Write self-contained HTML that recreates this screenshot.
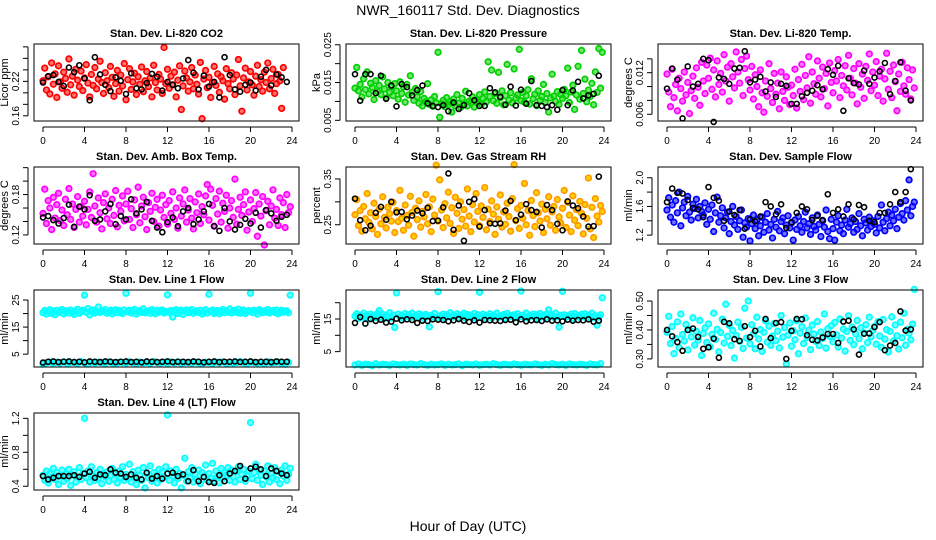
<!DOCTYPE html>
<html><head><meta charset="utf-8"><style>
html,body{margin:0;padding:0;background:#fff}
svg{display:block;font-family:"Liberation Sans",Arial,sans-serif}
</style></head><body>
<svg id="chart" width="936" height="540" viewBox="0 0 936 540" xmlns="http://www.w3.org/2000/svg">
<rect x="0" y="0" width="936" height="540" fill="#fff"/>
<text x="468" y="15" text-anchor="middle" font-size="14">NWR_160117  Std. Dev. Diagnostics</text>
<text x="468" y="531" text-anchor="middle" font-size="14">Hour of Day (UTC)</text>
</svg>
<script>
const xTicks=[0,4,8,12,16,20,24];
const co2Red=[.221,.243,.205,.228,.198,.252,.215,.233,.192,.247,.219,.208,.236,.225,.201,.259,.214,.229,.196,.241,.222,.211,.238,.204,.226,.249,.217,.193,.232,.213,
.244,.207,.224,.255,.218,.199,.235,.221,.209,.246,.227,.194,.216,.239,.203,.231,.212,.251,.188,.223,.242,.206,.219,.234,.197,.228,.215,.245,.202,.221,
.237,.211,.226,.193,.248,.218,.205,.232,.224,.199,.279,.216,.241,.208,.229,.214,.236,.193,.222,.247,.171,.212,.238,.226,.203,.219,.244,.207,.231,.215,
.198,.253,.155,.224,.239,.209,.227,.192,.218,.246,.213,.233,.201,.228,.221,.189,.242,.216,.207,.235,.224,.197,.231,.258,.212,.168,.226,.243,.205,.219,
.237,.214,.196,.229,.248,.211,.223,.203,.236,.218,.252,.207,.225,.241,.199,.216,.232,.221,.173,.244];
const co2Black=[.218,.229,.231,.219,.212,.244,.236,.248,.225,.187,.262,.232,.214,.203,.227,.221,.198,.234,.208,.206,.217,.233,.228,.204,.219,.214,.208,.225,.257,.235,.206,.230,.211,.219,.192,.262,.231,.206,.202,.214,.218,.204,.228,.240,.213,.232,.227,.219];
const presGreen=[.0135,.0190,.0128,.0145,.0112,.0160,.0131,.0178,.0120,.0148,.0137,.0105,.0155,.0126,.0142,.0118,.0165,.0133,.0109,.0150,.0124,.0139,.0115,.0147,
.0128,.0106,.0152,.0121,.0138,.0098,.0145,.0117,.0168,.0125,.0103,.0134,.0112,.0095,.0126,.0088,.0108,.0099,.0147,.0092,.0104,.0087,.0113,.0096,
.0230,.0058,.0094,.0103,.0086,.0110,.0091,.0099,.0072,.0106,.0089,.0118,.0095,.0084,.0108,.0093,.0127,.0088,.0101,.0097,.0112,.0085,.0104,.0096,
.0118,.0092,.0108,.0125,.0099,.0205,.0113,.0183,.0102,.0121,.0095,.0177,.0110,.0128,.0091,.0115,.0198,.0104,.0123,.0096,.0186,.0109,.0117,.0238,
.0102,.0124,.0098,.0115,.0131,.0093,.0160,.0107,.0119,.0089,.0128,.0103,.0113,.0145,.0097,.0121,.0072,.0109,.0172,.0114,.0100,.0126,.0092,.0118,
.0108,.0132,.0115,.0188,.0097,.0125,.0143,.0079,.0117,.0193,.0106,.0235,.0121,.0159,.0099,.0130,.0113,.0148,.0091,.0178,.0124,.0240,.0135,.0230];
const presBlack=[.0172,.0102,.0172,.0172,.0122,.0168,.0107,.0142,.0087,.0146,.0138,.0116,.0130,.0142,.0095,.0088,.0085,.0090,.0074,.0097,.0080,.0090,.0122,.0103,.0088,.0088,.0135,.0124,.0112,.0091,.0139,.0089,.0131,.0094,.0154,.0090,.0088,.0085,.0090,.0078,.0130,.0090,.0129,.0152,.0108,.0116,.0120,.0168];
const tempMag=[.0118,.0092,.0071,.0125,.0084,.0103,.0065,.0112,.0097,.0079,.0121,.0088,.0106,.0061,.0094,.0115,.0083,.0127,.0099,.0073,.0135,.0108,.0090,.0131,
.0112,.0141,.0096,.0124,.0085,.0137,.0103,.0119,.0092,.0146,.0108,.0128,.0079,.0133,.0114,.0098,.0150,.0121,.0105,.0139,.0087,.0126,.0144,.0110,
.0095,.0129,.0082,.0117,.0100,.0071,.0124,.0091,.0063,.0108,.0086,.0133,.0097,.0077,.0119,.0089,.0105,.0068,.0121,.0093,.0080,.0114,.0099,.0074,
.0102,.0087,.0125,.0069,.0110,.0093,.0132,.0081,.0116,.0098,.0143,.0076,.0121,.0104,.0089,.0137,.0112,.0085,.0128,.0097,.0119,.0072,.0134,.0106,
.0091,.0123,.0108,.0139,.0084,.0116,.0101,.0130,.0095,.0145,.0112,.0088,.0126,.0105,.0075,.0133,.0099,.0118,.0083,.0129,.0109,.0147,.0094,.0121,
.0102,.0136,.0087,.0115,.0125,.0079,.0111,.0148,.0096,.0122,.0084,.0131,.0107,.0065,.0118,.0093,.0135,.0101,.0089,.0127,.0110,.0082,.0124,.0098];
const tempBlack=[.0097,.0126,.0110,.0054,.0129,.0100,.0104,.0140,.0138,.0049,.0113,.0111,.0104,.0126,.0127,.0151,.0106,.0110,.0114,.0093,.0106,.0085,.0104,.0101,.0075,.0075,.0086,.0091,.0094,.0102,.0096,.0125,.0117,.0130,.0065,.0112,.0105,.0103,.0123,.0104,.0113,.0122,.0134,.0089,.0108,.0135,.0094,.0080];
const ambMag=[.152,.188,.137,.171,.160,.128,.176,.145,.165,.182,.141,.157,.134,.173,.150,.189,.143,.166,.131,.158,.177,.139,.162,.148,
.170,.135,.158,.184,.146,.211,.163,.139,.175,.153,.129,.168,.181,.144,.160,.137,.173,.149,.186,.132,.164,.155,.178,.141,
.166,.185,.143,.159,.131,.172,.150,.191,.138,.163,.176,.147,.128,.168,.155,.182,.140,.161,.173,.133,.157,.179,.146,.165,
.136,.171,.152,.184,.143,.160,.130,.175,.148,.166,.187,.139,.157,.174,.145,.129,.169,.153,.181,.137,.162,.150,.178,.195,
.142,.188,.164,.133,.174,.151,.185,.139,.167,.155,.179,.130,.160,.171,.146,.203,.136,.158,.176,.149,.165,.184,.127,.154,
.172,.140,.159,.183,.118,.166,.148,.177,.105,.156,.170,.135,.163,.187,.145,.158,.134,.175,.150,.168,.131,.180,.153,.162];
const ambBlack=[.146,.148,.142,.137,.145,.165,.132,.162,.158,.179,.141,.143,.155,.166,.136,.148,.143,.173,.152,.158,.169,.141,.131,.124,.139,.146,.133,.155,.160,.136,.143,.155,.166,.133,.126,.160,.140,.128,.135,.144,.137,.153,.131,.157,.152,.141,.147,.150];
const rhOrange=[.272,.305,.248,.281,.236,.290,.263,.318,.255,.276,.241,.297,.268,.229,.284,.252,.311,.266,.243,.288,.274,.258,.299,.233,
.281,.257,.325,.264,.238,.293,.270,.249,.312,.277,.225,.286,.261,.302,.245,.279,.267,.316,.252,.289,.235,.306,.271,.380,
.258,.348,.282,.244,.296,.265,.321,.253,.287,.231,.310,.275,.242,.300,.262,.283,.247,.328,.269,.235,.294,.256,.318,.279,
.248,.291,.266,.331,.239,.284,.257,.302,.273,.229,.289,.262,.315,.245,.278,.251,.297,.268,.236,.307,.381,.259,.285,.242,
.292,.264,.340,.250,.281,.227,.303,.270,.246,.320,.276,.258,.295,.233,.284,.263,.311,.249,.278,.290,.238,.305,.267,.254,
.286,.325,.244,.299,.271,.235,.313,.260,.283,.248,.301,.275,.230,.294,.264,.352,.241,.288,.222,.307,.269,.256,.292,.279];
const rhBlack=[.307,.260,.238,.248,.276,.289,.261,.300,.277,.278,.262,.270,.281,.275,.287,.258,.259,.288,.362,.239,.292,.215,.300,.306,.246,.282,.253,.252,.253,.281,.302,.260,.272,.295,.282,.278,.244,.293,.282,.252,.238,.301,.292,.286,.268,.246,.247,.355];
const flowBlue=[1.55,1.72,1.45,1.62,1.38,1.68,1.51,1.80,1.33,1.58,1.66,1.47,1.74,1.52,1.41,1.63,1.57,1.70,1.44,1.60,1.53,1.48,1.65,1.35,
1.56,1.42,1.62,1.25,1.51,1.73,1.38,1.47,1.58,1.30,1.44,1.52,1.22,1.39,1.60,1.34,1.46,1.28,1.40,1.55,1.17,1.37,1.31,1.43,
1.12,1.36,1.48,1.29,1.41,1.19,1.33,1.45,1.24,1.38,1.50,1.27,1.35,1.16,1.42,1.31,1.53,1.26,1.39,1.44,1.22,1.34,1.47,1.30,
1.37,1.13,1.41,1.28,1.46,1.33,1.24,1.39,1.52,1.30,1.36,1.21,1.44,1.32,1.27,1.48,1.35,1.18,1.40,1.31,1.55,1.25,1.15,1.42,
1.29,1.13,1.38,1.47,1.26,1.34,1.22,1.41,1.56,1.31,1.36,1.44,1.24,1.39,1.28,1.50,1.33,1.19,1.42,1.37,1.27,1.45,1.32,1.40,
1.35,1.23,1.46,1.30,1.62,1.38,1.26,1.43,1.52,1.33,1.48,1.40,1.56,1.29,1.45,1.64,1.50,1.41,1.68,1.55,1.97,1.47,1.60,1.66];
const flowBlack=[1.66,1.85,1.79,1.78,1.69,1.58,1.56,1.45,1.87,1.72,1.68,1.40,1.53,1.48,1.55,1.29,1.42,1.39,1.46,1.66,1.60,1.49,1.63,1.30,1.38,1.51,1.60,1.56,1.41,1.47,1.41,1.77,1.51,1.56,1.46,1.63,1.42,1.62,1.59,1.40,1.38,1.51,1.51,1.63,1.80,1.66,1.80,2.12];
const line1Hi=[20.3,21.1,19.8,20.6,21.4,20.0,20.9,19.6,21.2,20.4,20.8,21.5,19.9,20.7,21.0,20.2,21.3,20.5,19.7,20.9,21.6,20.1,20.6,21.2,
26.8,20.5,21.8,19.5,20.9,21.3,20.2,20.7,22.4,20.4,21.0,20.8,21.5,20.1,20.6,21.2,19.9,20.9,21.4,20.3,21.1,20.6,20.0,21.3,
27.5,20.7,21.2,20.2,20.9,21.5,19.8,20.6,21.1,20.4,21.7,20.3,20.8,21.0,20.1,21.4,20.6,19.9,21.2,20.5,20.8,21.3,20.2,20.7,
26.9,20.4,21.1,18.7,20.8,21.4,20.0,20.6,21.2,19.7,20.9,21.3,20.3,20.7,21.5,20.1,20.8,21.0,20.4,21.2,19.8,20.6,21.4,20.2,
27.1,20.8,21.3,20.0,20.6,21.1,19.9,20.7,21.5,20.3,21.0,20.5,21.7,20.2,20.9,21.2,20.4,21.6,20.1,20.8,21.3,20.0,20.7,21.1,
27.5,20.4,21.2,20.6,19.8,21.4,20.9,20.3,21.0,20.6,21.5,20.2,20.8,21.1,20.4,21.3,19.9,20.7,21.2,20.5,20.9,21.0,20.3,26.8];
const line1Lo=[1.3,1.8,2.1,1.6,2.0,1.7,2.2,1.5,1.9,2.0,1.6,2.3,1.8,1.4,2.0,1.7,2.1,1.9,1.6,2.2,1.8,1.5,2.0,1.9,
1.7,2.2,1.9,1.5,2.1,1.8,2.0,1.6,2.3,1.9,1.7,2.0,1.5,2.1,1.8,2.2,1.6,1.9,2.0,1.7,2.1,1.8,1.6,2.0,
1.9,1.6,2.1,1.8,2.2,1.5,2.0,1.7,1.9,2.3,1.8,1.6,2.1,1.9,1.7,2.0,1.5,2.2,1.8,1.9,2.1,1.6,1.3,2.0];
const line1Black=[1.9,2.2,2.3,2.1,2.2,2.3,2.1,2.2,2.0,2.3,2.2,2.1,2.3,2.2,2.1,2.2,2.3,2.1,2.2,2.0,2.3,2.2,2.1,2.2,2.3,2.1,2.2,2.2,2.1,2.3,2.2,2.0,2.2,2.3,2.1,2.2,2.2,2.3,2.1,2.2,2.3,2.1,2.2,2.2,2.1,2.3,2.2,2.2];
const line2Hi=[15.9,16.6,15.2,16.1,15.5,16.8,15.7,16.3,15.0,16.5,15.8,16.2,15.4,16.7,17.6,15.6,16.4,15.1,16.0,15.7,16.9,15.3,16.2,12.4,
23.0,16.5,15.6,16.1,15.2,16.7,15.9,16.3,15.4,16.8,15.7,16.0,15.5,16.6,15.8,16.2,15.1,16.4,15.9,12.6,16.1,15.6,16.7,15.3,
23.4,16.0,15.7,16.5,15.2,16.3,15.8,16.9,15.5,16.1,15.9,16.6,15.4,16.2,15.7,16.8,15.3,16.4,15.9,16.0,15.6,16.7,15.2,16.3,
23.2,15.8,16.5,15.4,16.1,15.9,16.6,15.3,16.2,15.7,16.8,15.5,16.0,15.9,16.4,15.2,16.7,15.6,16.1,15.8,16.3,15.4,16.6,15.7,
23.6,16.2,15.5,16.8,15.3,16.0,15.9,16.5,15.6,16.3,15.1,16.7,15.8,16.1,15.4,16.6,17.8,15.9,16.2,15.5,16.8,15.7,12.5,16.1,
23.5,16.3,15.6,16.0,15.8,16.5,15.2,16.7,15.9,16.1,15.5,16.4,15.7,16.6,15.3,16.2,15.8,16.8,15.4,16.0,13.1,15.6,16.3,21.5];
const line2Lo=[0.9,1.2,0.8,1.1,1.0,0.7,1.3,0.9,1.1,1.0,0.8,1.2,1.0,0.9,1.1,0.8,1.2,1.0,0.9,1.3,1.0,0.8,1.1,0.9,
1.0,1.2,0.8,1.1,0.9,1.0,1.2,0.7,1.1,1.0,0.9,1.2,0.8,1.0,1.1,0.9,1.3,1.0,0.8,1.1,1.0,0.9,1.2,1.0,
0.8,1.1,1.0,0.9,1.2,1.0,0.8,1.1,0.9,1.3,1.0,0.9,1.1,0.8,1.2,1.0,0.9,1.1,1.0,0.8,1.2,1.0,0.9,1.3];
const line2Black=[13.8,15.6,13.6,15.0,14.4,14.8,13.9,14.2,15.1,14.6,14.9,14.7,13.8,14.5,14.4,14.9,14.8,14.7,14.3,14.6,15.0,14.5,14.1,14.6,13.9,14.7,14.6,14.5,14.4,14.7,14.8,14.0,14.9,14.3,14.6,14.7,14.4,14.9,14.5,14.6,14.3,14.8,14.5,14.7,14.6,14.9,14.2,14.5];
const line3Cyan=[.392,.447,.353,.412,.318,.371,.428,.339,.455,.384,.362,.419,.331,.401,.376,.442,.348,.395,.365,.433,.312,.388,.407,.357,
.421,.342,.385,.458,.367,.402,.324,.391,.437,.355,.489,.378,.416,.346,.398,.303,.381,.427,.361,.409,.336,.475,.372,.500,
.352,.418,.387,.335,.444,.369,.401,.326,.392,.431,.358,.413,.347,.379,.422,.363,.396,.338,.450,.375,.408,.283,.382,.424,
.344,.397,.366,.432,.318,.389,.411,.353,.441,.374,.399,.332,.417,.386,.361,.429,.346,.393,.371,.455,.337,.404,.378,.415,
.359,.426,.383,.341,.438,.372,.403,.327,.395,.449,.364,.410,.349,.387,.433,.370,.407,.335,.390,.418,.356,.444,.376,.398,
.412,.351,.429,.379,.340,.436,.368,.401,.324,.395,.445,.362,.417,.380,.334,.427,.373,.458,.347,.402,.389,.366,.420,.540];
const line3Black=[.400,.378,.358,.328,.400,.405,.376,.335,.340,.370,.304,.428,.423,.368,.362,.413,.375,.397,.343,.438,.372,.424,.427,.300,.397,.438,.437,.382,.366,.364,.374,.386,.386,.355,.429,.432,.402,.315,.387,.388,.410,.427,.330,.346,.355,.464,.398,.402];
const line4Cyan=[.53,.47,.58,.44,.55,.50,.61,.48,.56,.42,.52,.59,.46,.54,.49,.60,.41,.53,.57,.45,.51,.62,.48,.55,
1.20,.50,.58,.45,.63,.52,.47,.56,.49,.60,.43,.54,.51,.57,.46,.53,.61,.48,.55,.44,.58,.50,.63,.47,
.54,.49,.66,.45,.57,.51,.42,.59,.53,.47,.62,.38,.55,.50,.64,.46,.56,.52,.44,.60,.48,.57,.51,.63,
1.24,.47,.58,.52,.44,.60,.49,.55,.38,.53,.73,.46,.57,.50,.62,.45,.54,.48,.59,.43,.56,.51,.65,.47,
.55,.50,.67,.46,.58,.52,.44,.61,.49,.56,.53,.62,.47,.59,.51,.45,.57,.63,.48,.54,.60,.46,.52,.58,
1.15,.49,.56,.66,.47,.60,.53,.42,.58,.51,.64,.45,.55,.50,.62,.48,.57,.43,.59,.52,.64,.47,.54,.61];
const line4Black=[.52,.48,.50,.52,.52,.52,.53,.51,.55,.57,.50,.54,.53,.60,.56,.55,.51,.54,.50,.48,.56,.49,.52,.49,.55,.56,.52,.54,.46,.59,.46,.51,.45,.44,.53,.46,.55,.58,.64,.49,.61,.63,.60,.52,.61,.58,.55,.53];

const NS="http://www.w3.org/2000/svg";
const svg=document.getElementById('chart');
function mk(tag,attrs,parent){const e=document.createElementNS(NS,tag);for(const k in attrs)e.setAttribute(k,attrs[k]);(parent||svg).appendChild(e);return e;}

const panels=[
 {id:'co2',title:'Stan. Dev. Li-820 CO2',ylab:'Licor ppm',col:0,row:0,ymin:.151,ymax:.285,ticks:[.16,.18,.20,.22,.24,.26,.28],labels:['0.16','0.22'],labelVals:[.16,.22],
  series:[{v:co2Red,c:'#ff0000',step:1/6}],black:co2Black},
 {id:'pressure',title:'Stan. Dev. Li-820 Pressure',ylab:'kPa',col:1,row:0,ymin:.00482,ymax:.0252,ticks:[.005,.010,.015,.020,.025],labels:['0.005','0.015','0.025'],labelVals:[.005,.015,.025],
  series:[{v:presGreen,c:'#00d000',step:1/6}],black:presBlack},
 {id:'li820-temp',title:'Stan. Dev. Li-820 Temp.',ylab:'degrees C',col:2,row:0,ymin:.00503,ymax:.01614,ticks:[.006,.008,.010,.012,.014],labels:['0.006','0.012'],labelVals:[.006,.012],
  series:[{v:tempMag,c:'#ff00ff',step:1/6}],black:tempBlack},
 {id:'amb-box-temp',title:'Stan. Dev. Amb. Box Temp.',ylab:'degrees C',col:0,row:1,ymin:.1065,ymax:.221,ticks:[.12,.14,.16,.18,.20,.22],labels:['0.12','0.18'],labelVals:[.12,.18],
  series:[{v:ambMag,c:'#ff00ff',step:1/6}],black:ambBlack},
 {id:'gas-rh',title:'Stan. Dev. Gas Stream RH',ylab:'percent',col:1,row:1,ymin:.208,ymax:.376,ticks:[.25,.30,.35],labels:['0.25','0.35'],labelVals:[.25,.35],
  series:[{v:rhOrange,c:'#ff9a00',fill:'#ffd000',step:1/6}],black:rhBlack},
 {id:'sample-flow',title:'Stan. Dev. Sample Flow',ylab:'ml/min',col:2,row:1,ymin:1.076,ymax:2.15,ticks:[1.2,1.4,1.6,1.8,2.0],labels:['1.2','1.6','2.0'],labelVals:[1.2,1.6,2.0],
  series:[{v:flowBlue,c:'#0000ff',step:1/6}],black:flowBlack},
 {id:'line1-flow',title:'Stan. Dev. Line 1 Flow',ylab:'ml/min',col:0,row:2,ymin:.26,ymax:28.7,ticks:[5,10,15,20,25],labels:['5','15','25'],labelVals:[5,15,25],
  series:[{v:line1Hi,c:'#00ffff',step:1/6},{v:line1Lo,c:'#00ffff',step:1/3}],black:line1Black},
 {id:'line2-flow',title:'Stan. Dev. Line 2 Flow',ylab:'ml/min',col:1,row:2,ymin:.28,ymax:23.9,ticks:[5,10,15,20],labels:['5','15'],labelVals:[5,15],
  series:[{v:line2Hi,c:'#00ffff',step:1/6},{v:line2Lo,c:'#00ffff',step:1/3}],black:line2Black},
 {id:'line3-flow',title:'Stan. Dev. Line 3 Flow',ylab:'ml/min',col:2,row:2,ymin:.272,ymax:.538,ticks:[.30,.35,.40,.45,.50],labels:['0.30','0.40','0.50'],labelVals:[.30,.40,.50],
  series:[{v:line3Cyan,c:'#00ffff',step:1/6}],black:line3Black},
 {id:'line4-flow',title:'Stan. Dev. Line 4 (LT) Flow',ylab:'ml/min',col:0,row:3,ymin:.356,ymax:1.263,ticks:[.4,.6,.8,1.0,1.2],labels:['0.4','0.8','1.2'],labelVals:[.4,.8,1.2],
  series:[{v:line4Cyan,c:'#00ffff',step:1/6}],black:line4Black}
];
const rowTops=[44,167,290,413];
panels.forEach(p=>{
  const L=34+312*p.col, R=299+312*p.col, T=rowTops[p.row], B=T+77;
  const x0=43+312*p.col, x1=292+312*p.col;
  const sx=h=>x0+(x1-x0)*h/24;
  const sy=v=>B-(v-p.ymin)/(p.ymax-p.ymin)*(B-T);
  const g=mk('g',{});
  
  
  const t=mk('text',{x:(L+R)/2,y:T-7,'text-anchor':'middle','font-size':'11','font-weight':'bold'},g);
  
  
  t.textContent=p.title;
  const xa=mk('g',{},g);
  
  
  mk('line',{x1:sx(0),y1:B+6,x2:sx(24),y2:B+6,stroke:'#000','stroke-width':1},xa);
  xTicks.forEach(h=>{
    mk('line',{x1:sx(h),y1:B+6,x2:sx(h),y2:B+11,stroke:'#000','stroke-width':1},xa);
    const lt=mk('text',{x:sx(h),y:B+23,'text-anchor':'middle','font-size':'10'},xa);
    lt.textContent=h;
  });
  const ya=mk('g',{},g);
  
  
  mk('line',{x1:L-6,y1:sy(p.ticks[0]),x2:L-6,y2:sy(p.ticks[p.ticks.length-1]),stroke:'#000','stroke-width':1},ya);
  p.ticks.forEach(v=>{mk('line',{x1:L-11,y1:sy(v),x2:L-6,y2:sy(v),stroke:'#000','stroke-width':1},ya);});
  p.labelVals.forEach((v,i)=>{
    const yl=mk('text',{x:0,y:0,'text-anchor':'middle','font-size':'10',transform:`translate(${L-15},${sy(v)}) rotate(-90)`},ya);
    yl.textContent=p.labels[i];
  });
  const yt=mk('text',{x:0,y:0,'text-anchor':'middle','font-size':'11',transform:`translate(${L-26},${(T+B)/2}) rotate(-90)`},g);
  
  
  yt.textContent=p.ylab;
  const pts=mk('g',{},g);
  
  
  p.series.forEach(s=>{
    s.v.forEach((v,i)=>{
      mk('circle',{cx:sx(i*s.step),cy:sy(v),r:2.8,fill:s.fill||s.c,'fill-opacity':s.fill?1:0.55,stroke:s.c,'stroke-width':1.7},pts);
    });
  });
  p.black.forEach((v,i)=>{
    mk('circle',{cx:sx(i*0.5),cy:sy(v),r:2.5,fill:'none',stroke:'#000','stroke-width':1.6},pts);
  });
  const box=mk('rect',{x:L,y:T,width:R-L,height:B-T,fill:'none',stroke:'#000','stroke-width':1},g);
  
  
});
</script>
</body></html>
